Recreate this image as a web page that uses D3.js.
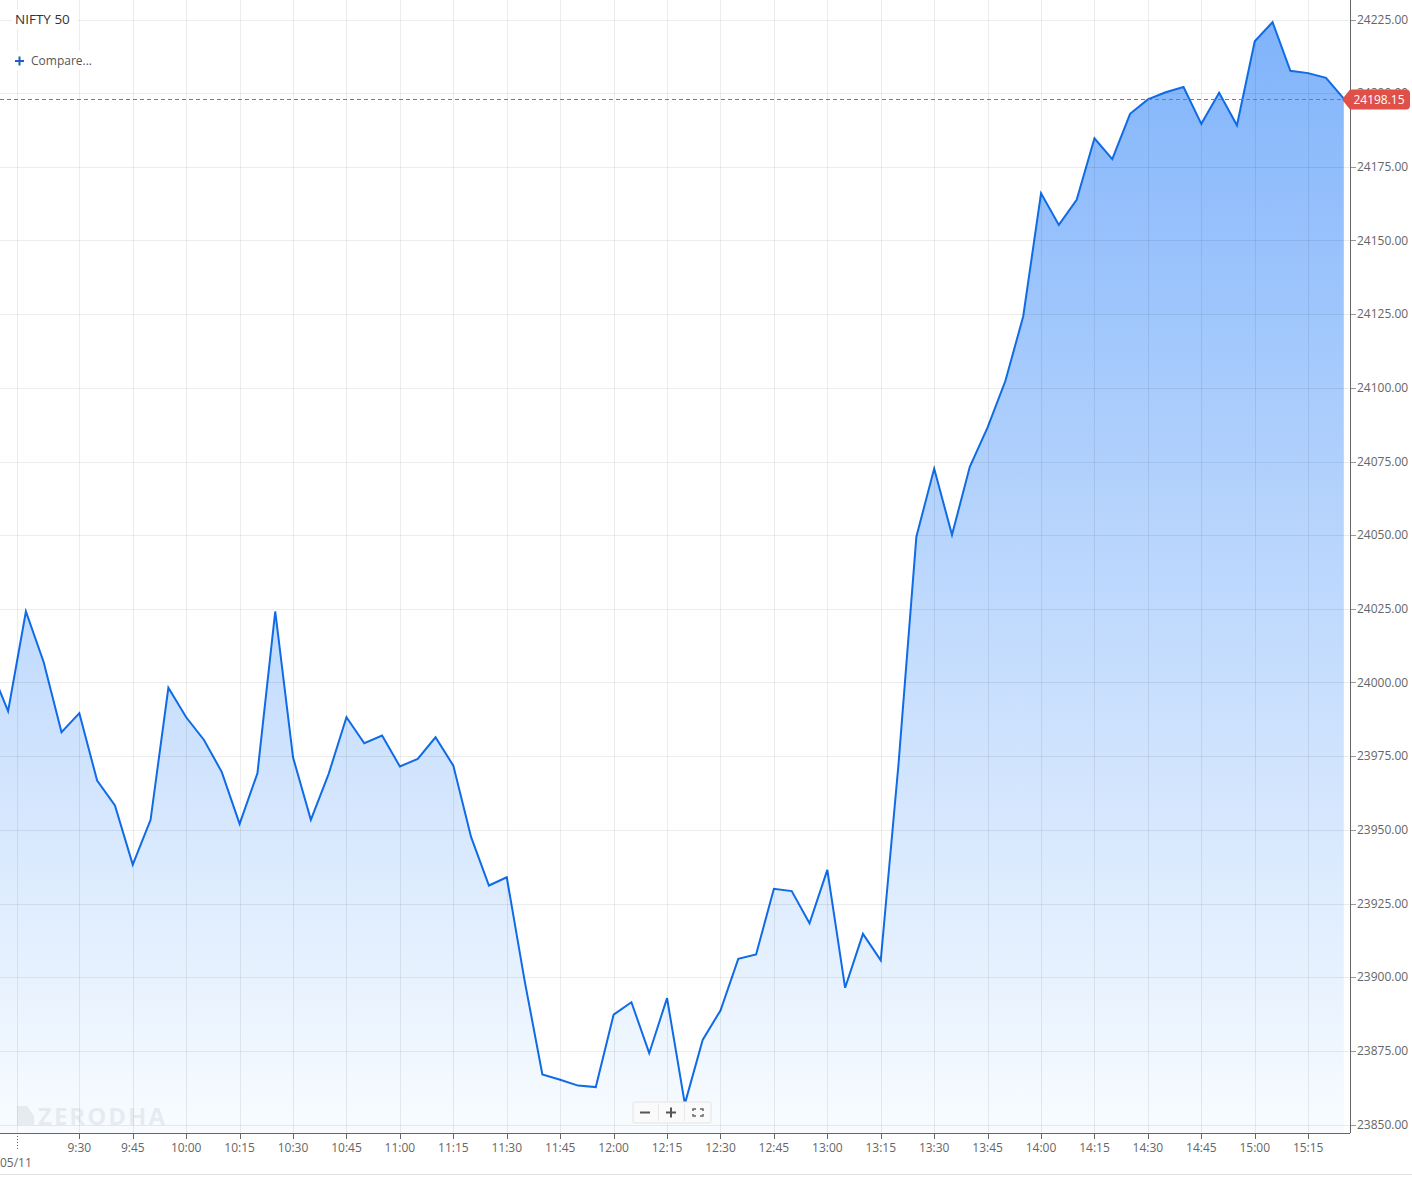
<!DOCTYPE html>
<html>
<head>
<meta charset="utf-8">
<script src="https://cdn.jsdelivr.net/npm/d3@7"></script>
<style>
  html, body { margin: 0; padding: 0; background: #fff; }
  svg { display: block; font-family: "Open Sans", "Noto Sans", sans-serif; }
</style>
</head>
<body>
<svg id="chart" width="1412" height="1177"></svg>
<script>
// ---- data ----
const title = "NIFTY 50";
const dateLabel = "05/11";
// bars: two last bars of the previous session, then the 05/11 session (5-minute)
const times = ["15:20","15:25",
  "9:15","9:20","9:25","9:30","9:35","9:40","9:45","9:50","9:55",
  "10:00","10:05","10:10","10:15","10:20","10:25","10:30","10:35","10:40","10:45","10:50","10:55",
  "11:00","11:05","11:10","11:15","11:20","11:25","11:30","11:35","11:40","11:45","11:50","11:55",
  "12:00","12:05","12:10","12:15","12:20","12:25","12:30","12:35","12:40","12:45","12:50","12:55",
  "13:00","13:05","13:10","13:15","13:20","13:25","13:30","13:35","13:40","13:45","13:50","13:55",
  "14:00","14:05","14:10","14:15","14:20","14:25","14:30","14:35","14:40","14:45","14:50","14:55",
  "15:00","15:05","15:10","15:15","15:20","15:25"];
const values = [24005.0, 23990.3,
  24024.1, 24006.9, 23983.1, 23989.6, 23966.7, 23958.3, 23938.2, 23953.4, 23998.2,
  23988.2, 23980.5, 23969.6, 23952.0, 23969.2, 24024.1, 23974.6, 23953.4, 23969.0, 23988.2, 23979.4, 23982.0,
  23971.5, 23974.1, 23981.4, 23971.8, 23947.5, 23931.1, 23933.9, 23898.9, 23867.0, 23865.2, 23863.2, 23862.7,
  23887.3, 23891.5, 23874.2, 23892.9, 23857.0, 23878.7, 23888.7, 23906.2, 23907.7, 23930.0, 23929.2, 23918.3,
  23936.4, 23896.4, 23914.7, 23905.7, 23972.5, 24049.5, 24072.6, 24050.1, 24073.2, 24086.6, 24102.4, 24124.3,
  24166.0, 24155.3, 24163.8, 24184.7, 24177.6, 24193.0, 24197.9, 24200.3, 24202.1, 24189.6, 24200.1, 24189.1,
  24217.6, 24224.1, 24207.6, 24206.8, 24205.2, 24198.15];
const sessionStart = 2;           // index of 9:15 of 05/11
const xTickLabels = ["9:30","9:45","10:00","10:15","10:30","10:45","11:00","11:15","11:30","11:45",
  "12:00","12:15","12:30","12:45","13:00","13:15","13:30","13:45","14:00","14:15","14:30","14:45","15:00","15:15"];
const yTicks = [23850,23875,23900,23925,23950,23975,24000,24025,24050,24075,24100,24125,24150,24175,24200,24225];
const lastPrice = 24198.15;

// ---- layout ----
const W = 1412, H = 1177;
const plotRight = 1350, plotBottom = 1133;
const svg = d3.select("#chart");

const x = d3.scaleLinear().domain([sessionStart, values.length - 1]).range([25.9, 1343.8]);
const y = d3.scaleLinear().domain([23850, 24225]).range([1124.5, 19.5]);

const defs = svg.append("defs");
defs.append("clipPath").attr("id", "plotclip")
  .append("rect").attr("x", 0).attr("y", 0).attr("width", plotRight).attr("height", plotBottom);
const grad = defs.append("linearGradient").attr("id", "fillgrad")
  .attr("gradientUnits", "userSpaceOnUse").attr("x1", 0).attr("y1", 0).attr("x2", 0).attr("y2", plotBottom);
grad.append("stop").attr("offset", 0).attr("stop-color", "rgb(126,178,251)");
grad.append("stop").attr("offset", 1).attr("stop-color", "rgb(248,252,255)");

const pts = values.map((v, i) => ({i, v}));
const plot = svg.append("g").attr("clip-path", "url(#plotclip)");

// area
plot.append("path").datum(pts)
  .attr("d", d3.area().x(d => x(d.i)).y0(plotBottom).y1(d => y(d.v)))
  .attr("fill", "url(#fillgrad)");

// grid
const grid = svg.append("g");
grid.selectAll("line.h").data(yTicks).join("line")
  .attr("x1", 0).attr("x2", plotRight).attr("y1", d => Math.round(y(d)) + 0.5).attr("y2", d => Math.round(y(d)) + 0.5)
  .attr("stroke", "rgba(0,0,0,0.075)").attr("stroke-width", 1);
const tickIdx = xTickLabels.map(t => times.indexOf(t, sessionStart));
grid.selectAll("line.v").data(tickIdx.concat([sessionStart - 0.5])).join("line")
  .attr("x1", d => Math.round(x(d)) + 0.5).attr("x2", d => Math.round(x(d)) + 0.5)
  .attr("y1", 0).attr("y2", plotBottom)
  .attr("stroke", "rgba(0,0,0,0.075)").attr("stroke-width", 1);

// line
plot.append("path").datum(pts)
  .attr("d", d3.line().x(d => x(d.i)).y(d => y(d.v)))
  .attr("fill", "none").attr("stroke", "#0f6be6").attr("stroke-width", 2).attr("stroke-linejoin", "miter");

// watermark
const wm = svg.append("g").attr("opacity", 0.06);
wm.append("path").attr("d", "M17,1106 L27,1106 L34,1116 L34,1125 L17,1125 Z").attr("fill", "#000");
wm.append("text").attr("x", 38).attr("y", 1125).attr("font-size", 24).attr("font-weight", 700)
  .attr("letter-spacing", 2).attr("fill", "#000").text("ZERODHA");

// last price dashed line
svg.append("line").attr("x1", 0).attr("x2", x(values.length - 1))
  .attr("y1", Math.round(y(lastPrice)) + 0.5).attr("y2", Math.round(y(lastPrice)) + 0.5)
  .attr("stroke", "#d9534f").attr("stroke-width", 1).attr("stroke-dasharray", "4,3");

// x axis
const xAxisG = svg.append("g");
xAxisG.append("line").attr("x1", 0).attr("x2", plotRight).attr("y1", plotBottom + 0.5).attr("y2", plotBottom + 0.5)
  .attr("stroke", "#666").attr("stroke-width", 1);
xAxisG.selectAll("line.t").data(tickIdx).join("line")
  .attr("x1", d => Math.round(x(d)) + 0.5).attr("x2", d => Math.round(x(d)) + 0.5)
  .attr("y1", plotBottom).attr("y2", plotBottom + 6).attr("stroke", "#666");
xAxisG.selectAll("text").data(xTickLabels).join("text")
  .attr("x", (d, k) => x(tickIdx[k])).attr("y", 1151.5)
  .attr("text-anchor", "middle").attr("font-size", 12).attr("fill", "#666").text(d => d);
xAxisG.append("line").attr("x1", Math.round(x(sessionStart - 0.5)) + 0.5).attr("x2", Math.round(x(sessionStart - 0.5)) + 0.5)
  .attr("y1", plotBottom).attr("y2", plotBottom + 17).attr("stroke", "#666").attr("stroke-dasharray", "1,2");
xAxisG.append("text").attr("x", 0).attr("y", 1166.5).attr("font-size", 12).attr("fill", "#666").text(dateLabel);
svg.append("line").attr("x1", 0).attr("x2", W).attr("y1", 1174.5).attr("y2", 1174.5).attr("stroke", "#e3e3e3");

// y axis
const yAxisG = svg.append("g");
yAxisG.append("line").attr("x1", plotRight + 0.5).attr("x2", plotRight + 0.5).attr("y1", 0).attr("y2", plotBottom)
  .attr("stroke", "#666");
yAxisG.selectAll("line.t").data(yTicks).join("line")
  .attr("x1", plotRight + 1).attr("x2", plotRight + 6)
  .attr("y1", d => Math.round(y(d)) + 0.5).attr("y2", d => Math.round(y(d)) + 0.5).attr("stroke", "#999");
yAxisG.selectAll("text").data(yTicks).join("text")
  .attr("x", 1357).attr("y", d => y(d) + 4.3)
  .attr("font-size", 12).attr("fill", "#666").text(d => d3.format(".2f")(d));

// last price tag
const ty = Math.round(y(lastPrice)) + 0.5;
const tag = svg.append("g");
tag.append("path")
  .attr("d", `M1342,${ty} L1350,${ty - 10} L1406,${ty - 10} Q1410,${ty - 10} 1410,${ty - 6} L1410,${ty + 6} Q1410,${ty + 10} 1406,${ty + 10} L1350,${ty + 10} Z`)
  .attr("fill", "#de5048");
tag.append("text").attr("x", 1379).attr("y", ty + 4.3).attr("text-anchor", "middle")
  .attr("font-size", 12).attr("fill", "#fff").text(d3.format(".2f")(lastPrice));

// title & compare
svg.append("rect").attr("x", 12).attr("y", 9).attr("width", 66).attr("height", 20).attr("fill", "#fff");
svg.append("text").attr("x", 15).attr("y", 24).attr("font-size", 13.5).attr("fill", "#333").text(title);
svg.append("rect").attr("x", 12).attr("y", 51).attr("width", 84).attr("height", 19).attr("fill", "#fff");
svg.append("path").attr("d", "M15,61 L24,61 M19.5,56.5 L19.5,65.5").attr("stroke", "#1f5fc2").attr("stroke-width", 2);
svg.append("text").attr("x", 31).attr("y", 65).attr("font-size", 12).attr("fill", "#555").text("Compare...");

// zoom controls
const zc = svg.append("g");
zc.append("rect").attr("x", 633).attr("y", 1102).attr("width", 78).attr("height", 21).attr("rx", 2)
  .attr("fill", "#fafafa").attr("stroke", "#e4e4e4");
zc.append("line").attr("x1", 658.5).attr("x2", 658.5).attr("y1", 1104).attr("y2", 1121).attr("stroke", "#e8e8e8");
zc.append("line").attr("x1", 684.5).attr("x2", 684.5).attr("y1", 1104).attr("y2", 1121).attr("stroke", "#e8e8e8");
zc.append("path").attr("d", "M640,1112.5 L650,1112.5").attr("stroke", "#555").attr("stroke-width", 2);
zc.append("path").attr("d", "M666,1112.5 L676,1112.5 M671,1107.5 L671,1117.5").attr("stroke", "#555").attr("stroke-width", 2);
zc.append("path").attr("d", "M693,1111 L693,1109 L696,1109 M700,1109 L703,1109 L703,1111 M703,1114 L703,1116 L700,1116 M696,1116 L693,1116 L693,1114")
  .attr("stroke", "#666").attr("stroke-width", 1.5).attr("fill", "none");
</script>
</body>
</html>
